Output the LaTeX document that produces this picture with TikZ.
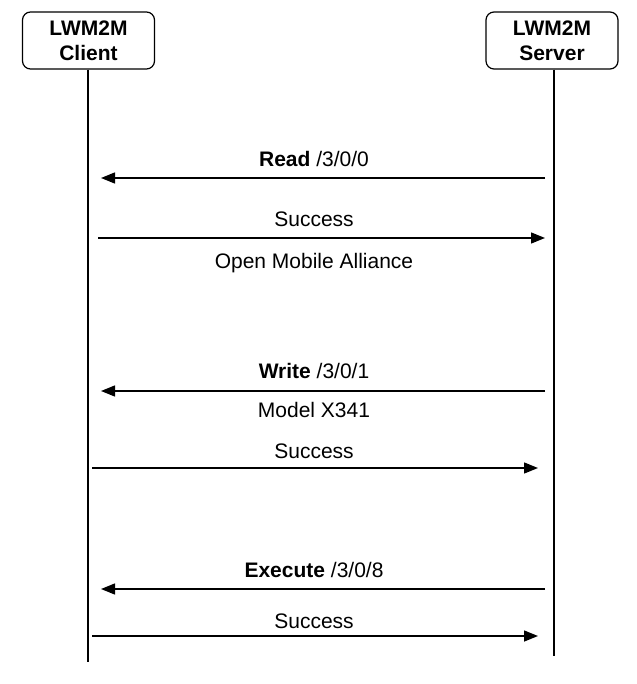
\documentclass[tikz,border=0pt]{standalone}
\usepackage{fontspec}
\setmainfont{Liberation Sans}
\usetikzlibrary{arrows.meta}

\tikzstyle{entity} = [draw=black, line width=1.2pt, rectangle, rounded corners=8pt, minimum width=132pt, minimum height=57pt, inner sep=0pt, align=center, font=\bfseries\fontsize{21}{25}\selectfont]
\tikzstyle{lifeline} = [draw=black, line width=1.1pt]
\tikzstyle{msg} = [draw=black, line width=1.4pt, -{Triangle[length=14pt,width=11pt]}]
\tikzstyle{msglabel} = [anchor=base, inner sep=0pt, font=\fontsize{21}{25}\selectfont]

\begin{document}
\begin{tikzpicture}[x=1pt, y=-1pt]
\useasboundingbox (0,0) rectangle (636,684);
\node [entity] (client) at (88.5,40.5) {LWM2M\\Client};
\node [entity] (server) at (552,40.5) {LWM2M\\Server};
\coordinate (clientend) at (88,662);
\coordinate (serverend) at (554,656);
\draw [lifeline] (client.south -| clientend) -- (clientend);
\draw [lifeline] (server.south -| serverend) -- (serverend);

\coordinate (readS) at (545,178);
\coordinate (readC) at (101,178);
\coordinate (okreadC) at (98,238);
\coordinate (okreadS) at (545,238);
\coordinate (writeS) at (545,391);
\coordinate (writeC) at (101,391);
\coordinate (okwriteC) at (92,468);
\coordinate (okwriteS) at (538,468);
\coordinate (execS) at (545,589);
\coordinate (execC) at (101,589);
\coordinate (okexecC) at (92,636);
\coordinate (okexecS) at (538,636);

\draw [msg] (readS) -- (readC);
\draw [msg] (okreadC) -- (okreadS);
\draw [msg] (writeS) -- (writeC);
\draw [msg] (okwriteC) -- (okwriteS);
\draw [msg] (execS) -- (execC);
\draw [msg] (okexecC) -- (okexecS);

\node [msglabel] (readlbl) at (314,167) {\textbf{Read} /3/0/0};
\node [msglabel] (okreadlbl) at (314,227) {Success};
\node [msglabel] (valuelbl) at (314,268) {Open Mobile Alliance};
\node [msglabel] (writelbl) at (314,378) {\textbf{Write} /3/0/1};
\node [msglabel] (modellbl) at (314,417) {Model X341};
\node [msglabel] (okwritelbl) at (314,458) {Success};
\node [msglabel] (execlbl) at (314,577) {\textbf{Execute} /3/0/8};
\node [msglabel] (okexeclbl) at (314,628) {Success};
\end{tikzpicture}
\end{document}
